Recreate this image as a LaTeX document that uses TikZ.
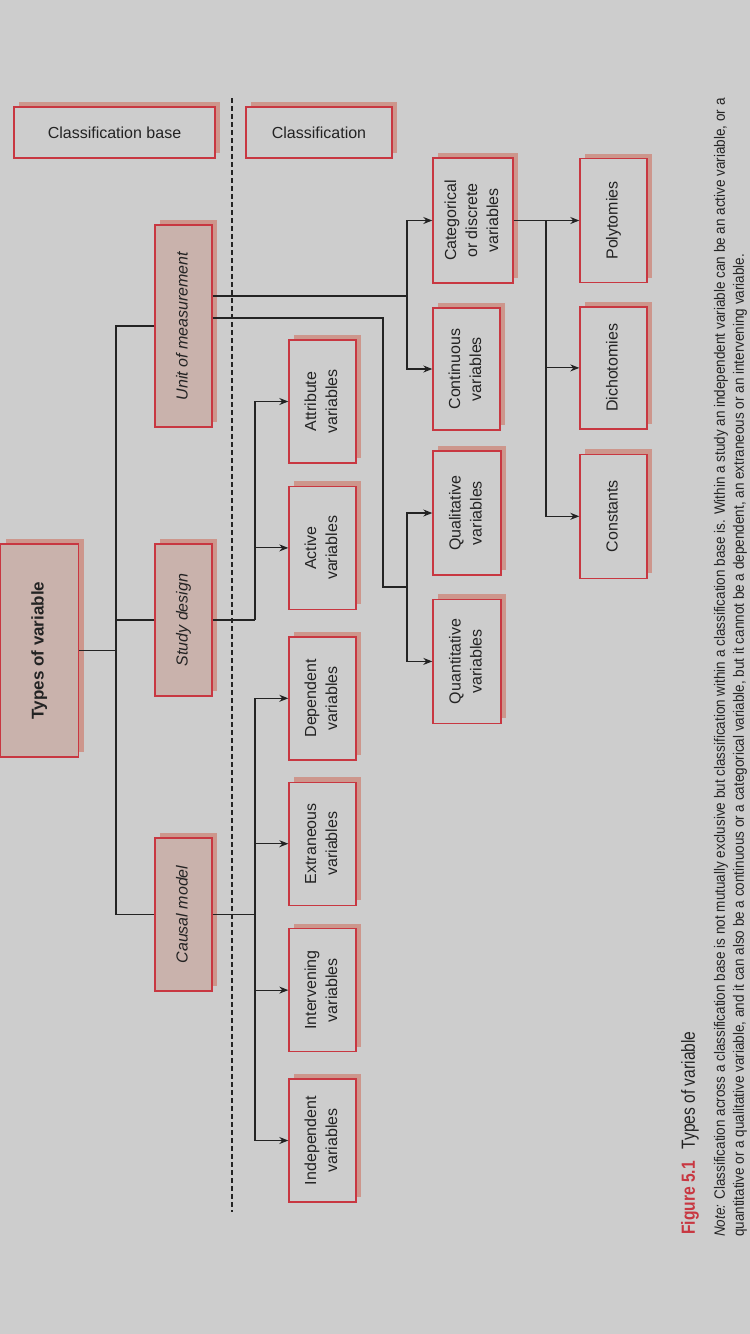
\documentclass[tikz,border=0pt]{standalone}
\usepackage{fontspec}
\setmainfont{Liberation Sans}
\newfontfamily\capfont[FakeStretch=0.82]{Liberation Sans}
\newfontfamily\notefont[FakeStretch=0.9]{Liberation Sans}
\usepackage{graphicx}
\usetikzlibrary{arrows.meta,positioning,shadows}
\definecolor{bgGray}{RGB}{205,205,205}
\definecolor{boxRed}{RGB}{200,55,65}
\definecolor{shRed}{RGB}{205,150,140}
\definecolor{baseFill}{RGB}{201,178,172}
\definecolor{inkGray}{RGB}{35,35,35}
\newcommand{\vt}[1]{\rotatebox{90}{\begin{tabular}{@{}c@{}}#1\end{tabular}}}
\tikzset{
  cbox/.style={rectangle, draw=boxRed, line width=1.4pt, fill=bgGray, inner sep=0pt, text=inkGray, font=\fontsize{16}{21}\selectfont, general shadow={fill=shRed, shadow xshift=5pt, shadow yshift=5pt}},
  basebox/.style={cbox, fill=baseFill},
  vbox/.style={cbox, minimum width=67pt, minimum height=123pt},
  arrow/.style={-{Stealth[length=9pt,width=7pt]}, line width=1.1pt, draw=inkGray},
  link/.style={line width=1.1pt, draw=inkGray},
  captext/.style={rotate=90, anchor=west, inner sep=0pt, text=inkGray}
}

\begin{document}
\begin{tikzpicture}[x=1pt, y=-1pt]
  \useasboundingbox (0,0) rectangle (750,1334);
  \fill[bgGray] (0,0) rectangle (750,1334);

  % headers and separator
  \node[cbox, minimum width=201pt, minimum height=51pt] (hBase) at (114.5,132.5) {Classification base};
  \node[cbox, minimum width=146pt, minimum height=51pt] (hClass) at (319,132.5) {Classification};
  \draw[inkGray, line width=1.1pt, dash pattern=on 5pt off 3pt] (232,98) -- (232,1212);

  % classification bases
  \node[basebox, minimum width=78pt, minimum height=213pt, font=\fontsize{17}{21}\selectfont\bfseries] (types) at (39.5,650.5) {\vt{Types of variable}};
  \node[basebox, minimum width=57pt, minimum height=202pt, font=\fontsize{16}{21}\selectfont\itshape] (unit) at (183.5,326) {\vt{Unit of measurement}};
  \node[basebox, minimum width=57pt, minimum height=152pt, font=\fontsize{16}{21}\selectfont\itshape] (design) at (183.5,620) {\vt{Study design}};
  \node[basebox, minimum width=57pt, minimum height=153pt, font=\fontsize{16}{21}\selectfont\itshape] (causal) at (183.5,914.5) {\vt{Causal model}};

  % study design and causal model
  \node[vbox] (attribute) at (322.5,401.5) {\vt{Attribute\\variables}};
  \node[vbox, below=22pt of attribute] (active) {\vt{Active\\variables}};
  \node[vbox, below=26pt of active] (dependent) {\vt{Dependent\\variables}};
  \node[vbox, below=21pt of dependent] (extraneous) {\vt{Extraneous\\variables}};
  \node[vbox, below=22pt of extraneous] (intervening) {\vt{Intervening\\variables}};
  \node[vbox, below=26pt of intervening] (independent) {\vt{Independent\\variables}};

  % unit of measurement
  \node[vbox, minimum width=80pt, minimum height=125pt] (categorical) at (473,220.5) {\vt{Categorical\\or discrete\\variables}};
  \node[vbox, minimum height=122pt] (continuous) at (466.5,369) {\vt{Continuous\\variables}};
  \node[vbox, minimum width=68pt, minimum height=124pt] (qualitative) at (467,513) {\vt{Qualitative\\variables}};
  \node[vbox, minimum width=68pt, minimum height=124pt, below=23pt of qualitative] (quantitative) {\vt{Quantitative\\variables}};
  \node[vbox, minimum height=124pt] (polytomies) at (613.5,220.5) {\vt{Polytomies}};
  \node[vbox, minimum height=122pt, below=23pt of polytomies] (dichotomies) {\vt{Dichotomies}};
  \node[vbox, minimum height=124pt, below=24pt of dichotomies] (constants) {\vt{Constants}};

  % connectors
  \coordinate (trunkX) at (116,0);
  \coordinate (dsgX) at (255,0);
  \coordinate (msrX) at (407,0);
  \coordinate (msrY) at (383,0);
  \coordinate (qMid) at (407,587);
  \coordinate (catX) at (546,0);
  \coordinate (unitA) at ([yshift=30pt]unit.east);
  \coordinate (unitB) at ([yshift=8pt]unit.east);

  \draw[link] (types.east) -- (types.east -| trunkX);
  \draw[link] (unit.west) -| (trunkX |- causal.west) -- (causal.west);
  \draw[link] (design.west) -- (design.west -| trunkX);

  \draw[link] (design.east) -- (design.east -| dsgX);
  \draw[arrow] (design.east -| dsgX) |- (attribute.west);
  \draw[arrow] (design.east -| dsgX) |- (active.west);
  \draw[link] (causal.east) -- (causal.east -| dsgX);
  \draw[arrow] (causal.east -| dsgX) |- (dependent.west);
  \draw[arrow] (causal.east -| dsgX) |- (independent.west);
  \draw[arrow] (extraneous.west -| dsgX) -- (extraneous.west);
  \draw[arrow] (intervening.west -| dsgX) -- (intervening.west);

  \draw[link] (unitA) -- (unitA -| msrX);
  \draw[arrow] (unitA -| msrX) |- (categorical.west);
  \draw[arrow] (unitA -| msrX) |- (continuous.west);
  \draw[link] (unitB) -| (msrY |- qMid) -- (qMid);
  \draw[arrow] (qMid) |- (qualitative.west);
  \draw[arrow] (qMid) |- (quantitative.west);

  \draw[arrow] (categorical.east) -- (polytomies.west);
  \draw[arrow] (categorical.east -| catX) |- (dichotomies.west);
  \draw[arrow] (categorical.east -| catX) |- (constants.west);

  % caption
  \node[captext, font=\capfont\fontsize{19}{22}\selectfont] (figCap) at (690,1235) {{\color{boxRed}\bfseries Figure 5.1}\hspace{12pt}Types of variable};
  \node[captext, font=\notefont\fontsize{15}{18}\selectfont] (note1) at (721,1237) {\textit{Note:} Classification across a classification base is not mutually exclusive but classification within a classification base is. Within a study an independent variable can be an active variable, or a};
  \node[captext, font=\notefont\fontsize{15}{18}\selectfont] (note2) at (740,1237) {quantitative or a qualitative variable, and it can also be a continuous or a categorical variable, but it cannot be a dependent, an extraneous or an intervening variable.};
\end{tikzpicture}
\end{document}
